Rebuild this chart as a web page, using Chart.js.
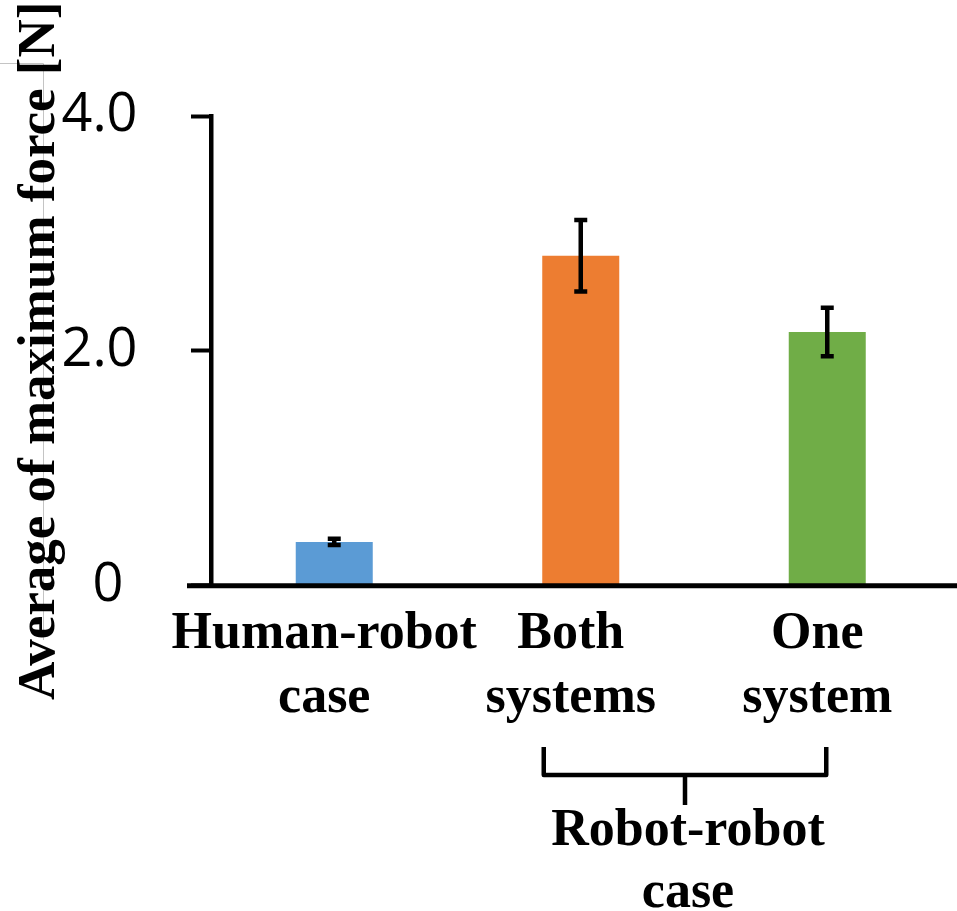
<!DOCTYPE html>
<html>
<head>
<meta charset="utf-8">
<script src="https://cdn.jsdelivr.net/npm/chart.js@4.4.1/dist/chart.umd.min.js"></script>
<style>
  html, body { margin: 0; padding: 0; background: #fff; }
</style>
</head>
<body>
<canvas id="myChart" width="957" height="911"></canvas>
<script>
var categories = [['Human-robot', 'case'], ['Both', 'systems'], ['One', 'system']];
var means = [0.373, 2.81, 2.16];
var errors = [0.026, 0.305, 0.207];
var barColors = ['#5B9BD5', '#ED7D31', '#70AD47'];
var yTicks = [0, 2, 4];
var yTickLabels = ['0 ', '2.0', '4.0'];
var groupLabel = ['Robot-robot', 'case'];

var serifBold = { family: 'Liberation Serif, Times New Roman, serif', weight: 'bold', size: 52, lineHeight: 1.23 };

// faint grey crop marks in the top-left corner
var cropMarks = {
    id: 'cropMarks',
    beforeDraw: function(chart) {
        var c = chart.ctx;
        c.save();
        c.strokeStyle = '#c4c4c4';
        c.lineWidth = 1;
        c.beginPath();
        c.moveTo(0, 63.5);
        c.lineTo(43.5, 63.5);
        c.lineTo(43.5, 640);
        c.stroke();
        c.restore();
    }
};

// error bars + the long x axis line
var errorBars = {
    id: 'errorBars',
    afterDatasetsDraw: function(chart) {
        var c = chart.ctx;
        var ys = chart.scales.y;
        var meta = chart.getDatasetMeta(0);
        var area = chart.chartArea;
        c.save();
        c.strokeStyle = '#000';
        c.lineWidth = 5;
        c.beginPath();
        c.moveTo(area.left - 24, area.bottom);
        c.lineTo(chart.width, area.bottom);
        c.stroke();

        c.lineWidth = 4.5;
        meta.data.forEach(function(bar, i) {
            var x = bar.x;
            var top = ys.getPixelForValue(means[i] + errors[i]);
            var bot = ys.getPixelForValue(means[i] - errors[i]);
            c.beginPath();
            c.moveTo(x, top);
            c.lineTo(x, bot);
            c.moveTo(x - 6.5, top);
            c.lineTo(x + 6.5, top);
            c.moveTo(x - 6.5, bot);
            c.lineTo(x + 6.5, bot);
            c.stroke();
        });
        c.restore();
    }
};

// bracket grouping the two robot-robot bars
var bracket = {
    id: 'bracket',
    afterDraw: function(chart) {
        var c = chart.ctx;
        var xs = chart.scales.x;
        var left = xs.getPixelForValue(1) - 37;
        var right = xs.getPixelForValue(2) - 1;
        var mid = (left + right) / 2;
        c.save();
        c.strokeStyle = '#000';
        c.lineWidth = 4.5;
        c.lineJoin = 'round';
        c.beginPath();
        c.moveTo(left, 747);
        c.lineTo(left, 775);
        c.lineTo(right, 775);
        c.lineTo(right, 747);
        c.moveTo(mid, 775);
        c.lineTo(mid, 805);
        c.stroke();
        c.fillStyle = '#000';
        c.font = 'bold 52px "Liberation Serif", "Times New Roman", serif';
        c.textAlign = 'center';
        c.textBaseline = 'alphabetic';
        c.fillText(groupLabel[0], mid + 3, 845);
        c.fillText(groupLabel[1], mid + 3, 907);
        c.restore();
    }
};

var ctx = document.getElementById('myChart').getContext('2d');
var myChart = new Chart(ctx, {
    type: 'bar',
    data: {
        labels: categories,
        datasets: [{
            data: means,
            backgroundColor: barColors,
            borderWidth: 0,
            barPercentage: 0.3124,
            categoryPercentage: 1
        }]
    },
    options: {
        responsive: false,
        animation: false,
        layout: {
            padding: { left: 0, top: 116, right: 6.5, bottom: 0 }
        },
        plugins: {
            legend: { display: false },
            tooltip: { enabled: false }
        },
        scales: {
            x: {
                grid: { display: false, drawTicks: false },
                border: { display: false },
                ticks: {
                    color: '#000',
                    font: serifBold,
                    padding: 17,
                    labelOffset: -10,
                    maxRotation: 0,
                    autoSkip: false
                },
                afterFit: function(s) { s.height = 911 - 585.7; }
            },
            y: {
                min: 0,
                max: 4,
                afterBuildTicks: function(s) {
                    s.ticks = yTicks.map(function(v) { return { value: v }; });
                },
                grid: {
                    drawOnChartArea: false,
                    drawTicks: true,
                    tickLength: 20,
                    tickWidth: 4,
                    tickColor: '#000'
                },
                border: { display: true, color: '#000', width: 4.5 },
                ticks: {
                    color: '#000',
                    font: { family: 'Open Sans', size: 54 },
                    padding: 53.5,
                    callback: function(value) {
                        return yTickLabels[yTicks.indexOf(value)];
                    }
                },
                title: {
                    display: true,
                    text: 'Average of maximum force [N]',
                    color: '#000',
                    font: { family: 'Liberation Serif, Times New Roman, serif', weight: 'bold', size: 53, lineHeight: 1.2 },
                    padding: { top: 9, bottom: 0 }
                },
                afterFit: function(s) { s.width = 211; }
            }
        }
    },
    plugins: [cropMarks, errorBars, bracket]
});
</script>
</body>
</html>
